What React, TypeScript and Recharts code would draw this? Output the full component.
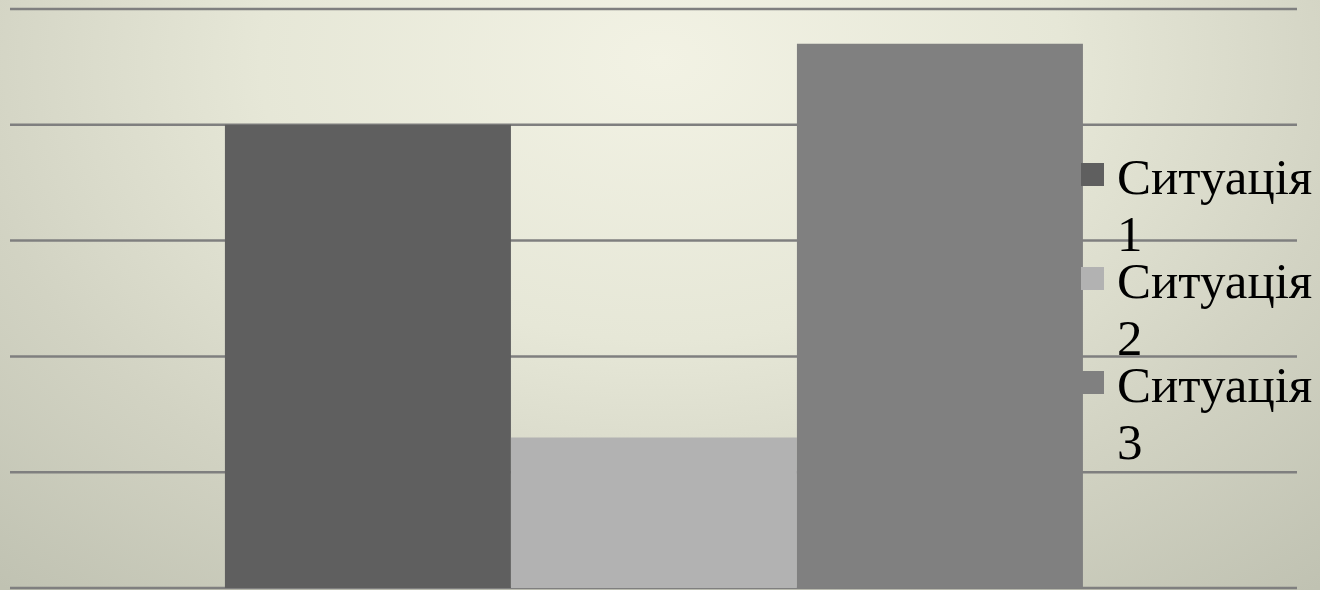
import React from 'react';
import { BarChart, Bar, XAxis, YAxis, CartesianGrid, Legend } from 'recharts';

const categories = [''];
const seriesNames = ['Ситуація 1', 'Ситуація 2', 'Ситуація 3'];
const seriesKeys = ['s1', 's2', 's3'];
const seriesValues = [4, 1.3, 4.7];
const seriesColors = ['#5f5f5f', '#b2b2b2', '#808080'];
const yTicks = [0, 1, 2, 3, 4, 5];

const data = categories.map((c) => {
  const row: Record<string, any> = { name: c };
  seriesKeys.forEach((k, i) => {
    row[k] = seriesValues[i];
  });
  return row;
});

const LegendContent = (props: any) => {
  const payload = props.payload || [];
  return (
    <div style={{ position: 'relative', width: 240, height: 330 }}>
      {payload.map((entry: any, i: number) => (
        <div
          key={i}
          style={{ position: 'absolute', left: 0, top: i * 104, width: 240 }}
        >
          <div
            style={{
              position: 'absolute',
              left: 1,
              top: 14,
              width: 23,
              height: 23,
              background: entry.color,
            }}
          />
          <div
            style={{
              position: 'absolute',
              left: 37,
              top: 0,
              width: 203,
              fontFamily: '"Liberation Serif", serif',
              fontSize: 51,
              lineHeight: '57px',
              color: '#000',
              textAlign: 'left',
            }}
          >
            {entry.value}
          </div>
        </div>
      ))}
    </div>
  );
};

export default function App() {
  return (
    <div
      style={{
        position: 'absolute',
        left: 0,
        top: 0,
        width: 1320,
        height: 590,
        overflow: 'hidden',
        background:
          'radial-gradient(ellipse 1000px 700px at 660px 60px, #f2f2e4 0%, #e6e7d7 40%, #d2d3c3 70%, #c0c2b2 100%)',
      }}
    >
      <BarChart
        width={1320}
        height={590}
        data={data}
        margin={{ top: 9, right: 23, bottom: 2, left: 10 }}
        barCategoryGap="16.7%"
        barGap={0}
      >
        <CartesianGrid
          vertical={false}
          stroke="#7f7f7f"
          strokeWidth={2.5}
          strokeDasharray=""
        />
        <XAxis dataKey="name" hide />
        <YAxis hide domain={[0, 5]} ticks={yTicks} />
        <Legend
          layout="vertical"
          align="center"
          verticalAlign="middle"
          content={<LegendContent />}
          wrapperStyle={{ left: 1080, top: 149, width: 240, height: 330 }}
        />
        {seriesKeys.map((k, i) => (
          <Bar
            key={k}
            dataKey={k}
            name={seriesNames[i]}
            fill={seriesColors[i]}
            isAnimationActive={false}
          />
        ))}
      </BarChart>
    </div>
  );
}
